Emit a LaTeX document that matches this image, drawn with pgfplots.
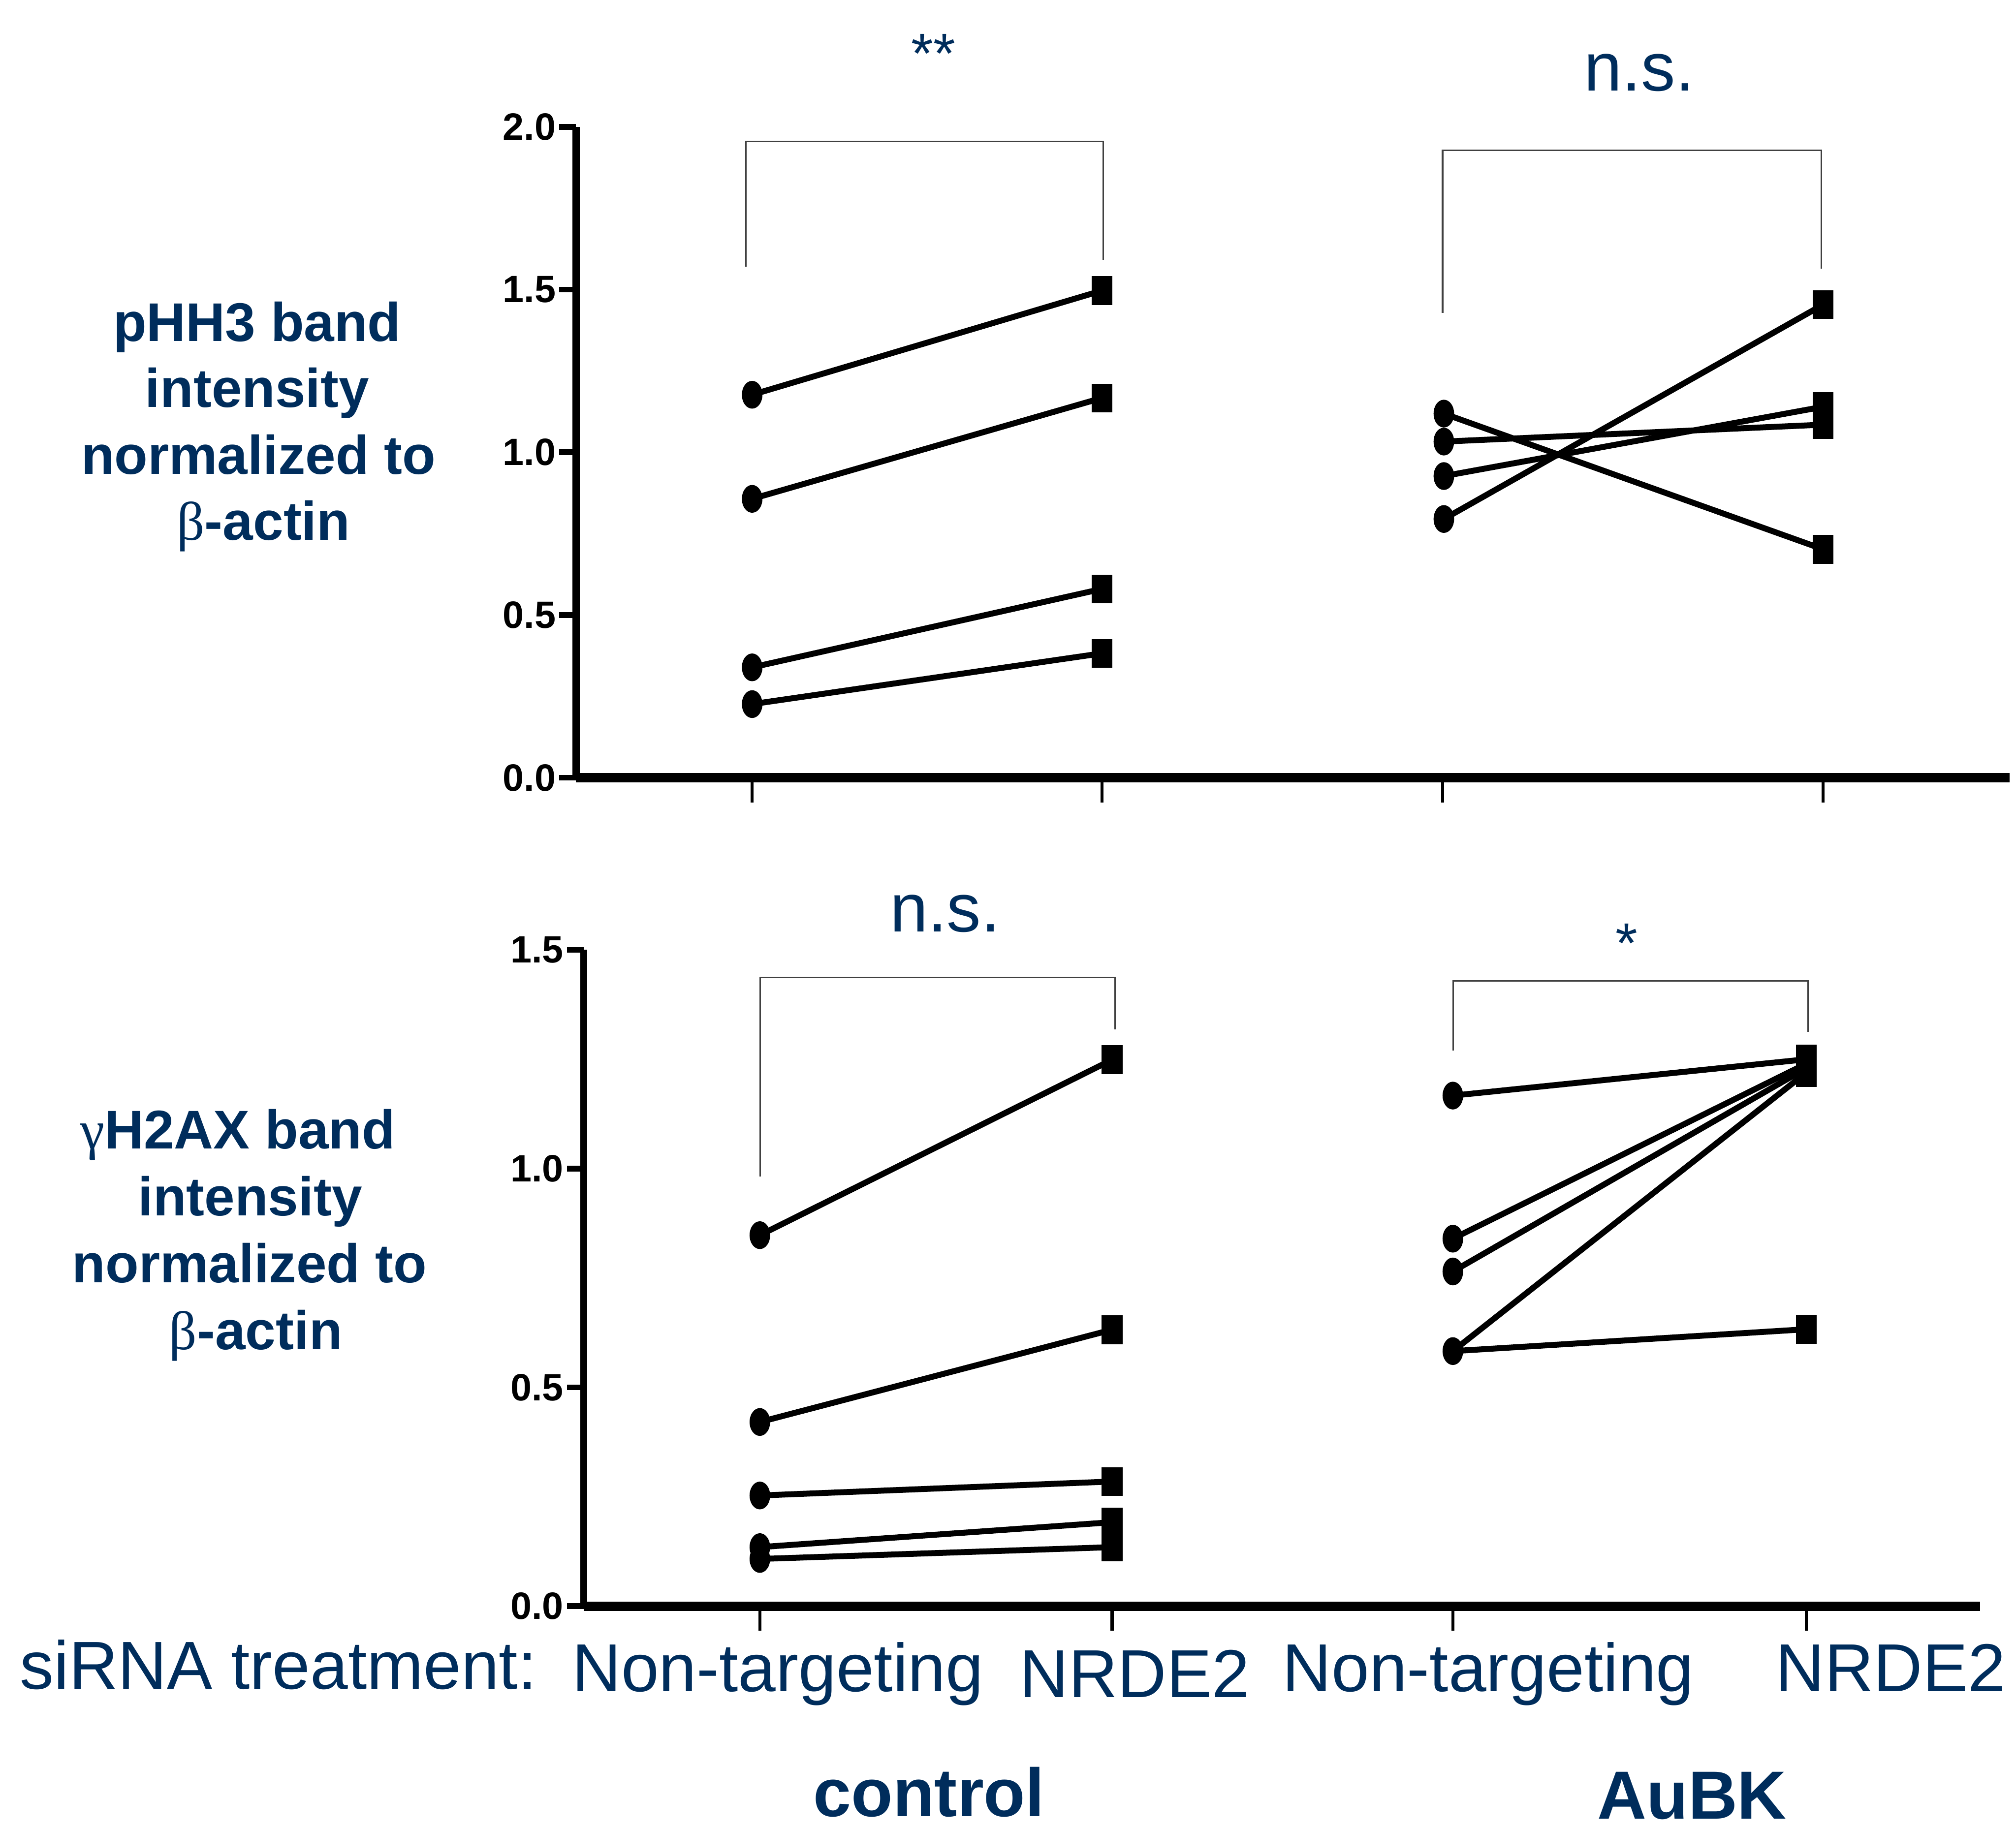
\documentclass[border=0pt]{standalone}
\usepackage{fontspec}
\setmainfont{Liberation Sans}
\newfontfamily\grk{Liberation Serif}
\usepackage{pgfplots}
\pgfplotsset{compat=1.18}
\definecolor{navy}{RGB}{0,45,92}

\begin{document}
\begin{tikzpicture}
\path[use as bounding box] (0,0) rectangle (392pt,-355.5pt);

\pgfplotsset{
 panel/.style={
  scale only axis, clip=false,
  axis lines*=left,
  axis line style={-, black},
  x axis line style={line width=1.8pt},
  y axis line style={line width=1.4pt},
  tick align=outside,
  major tick length=3.25pt,
  xtick style={line width=0.6pt, black, /pgfplots/major tick length=4.8pt},
  ytick style={line width=1.1pt, black},
  xticklabels={},
  yticklabel style={font=\fontsize{7.4}{8}\selectfont\bfseries, inner sep=0.5pt,
    /pgf/number format/fixed, /pgf/number format/fixed zerofill,
    /pgf/number format/precision=1, /pgf/number format/assume math mode=true},
  minor tick num=0,
 },
 pair/.style={line width=1.15pt, black, no markers},
 nt/.style={only marks, mark=*, mark size=2.5pt, black, mark options={xscale=0.72}},
 kd/.style={only marks, mark=square*, mark size=2.6pt, black, mark options={xscale=0.7}},
 brk/.style={line width=0.3pt, black!75, no markers},
}

% ---------- top panel: pHH3 ----------
\begin{axis}[panel, at={(112pt,-151.25pt)}, anchor=south west,
  width=278.75pt, height=126.55pt,
  xmin=448, xmax=1563, ymin=0, ymax=2,
  ytick={0,0.5,1,1.5,2}, xtick={585,857,1122,1418}]
\addplot[brk] coordinates {(580,1.571) (580,1.956) (858,1.956) (858,1.592)};
\addplot[brk] coordinates {(1122,1.429) (1122,1.928) (1416.5,1.928) (1416.5,1.565)};
% control
\addplot[pair] coordinates {(585,1.177) (857,1.497)};
\addplot[pair] coordinates {(585,0.857) (857,1.167)};
\addplot[pair] coordinates {(585,0.339) (857,0.580)};
\addplot[pair] coordinates {(585,0.226) (857,0.382)};
% AuBK
\addplot[pair] coordinates {(1123,1.119) (1418,0.702)};
\addplot[pair] coordinates {(1123,1.033) (1418,1.085)};
\addplot[pair] coordinates {(1123,0.927) (1418,1.140)};
\addplot[pair] coordinates {(1123,0.795) (1418,1.454)};
\addplot[nt] coordinates {(585,1.177) (585,0.857) (585,0.339) (585,0.226)
  (1123,1.119) (1123,1.033) (1123,0.927) (1123,0.795)};
\addplot[kd] coordinates {(857,1.497) (857,1.167) (857,0.580) (857,0.382)
  (1418,0.702) (1418,1.085) (1418,1.140) (1418,1.454)};
\end{axis}

% ---------- bottom panel: gammaH2AX ----------
\begin{axis}[panel, at={(113.5pt,-312.4pt)}, anchor=south west,
  width=271.5pt, height=127.65pt,
  xmin=454, xmax=1540, ymin=0, ymax=1.5,
  ytick={0,0.5,1,1.5}, xtick={591,865,1130,1405}]
\addplot[brk] coordinates {(591.4,0.982) (591.4,1.437) (867.4,1.437) (867.4,1.318)};
\addplot[brk] coordinates {(1130.4,1.270) (1130.4,1.429) (1406.3,1.429) (1406.3,1.313)};
% control
\addplot[pair] coordinates {(591,0.848) (865,1.249)};
\addplot[pair] coordinates {(591,0.421) (865,0.632)};
\addplot[pair] coordinates {(591,0.253) (865,0.285)};
\addplot[pair] coordinates {(591,0.135) (865,0.192)};
\addplot[pair] coordinates {(591,0.108) (865,0.135)};
% AuBK
\addplot[pair] coordinates {(1130,1.167) (1405,1.250)};
\addplot[pair] coordinates {(1130,0.840) (1405,1.240)};
\addplot[pair] coordinates {(1130,0.765) (1405,1.230)};
\addplot[pair] coordinates {(1130,0.583) (1405,1.220)};
\addplot[pair] coordinates {(1130,0.583) (1405,0.633)};
\addplot[nt] coordinates {(591,0.848) (591,0.421) (591,0.253) (591,0.135) (591,0.108)
  (1130,1.167) (1130,0.840) (1130,0.765) (1130,0.583)};
\addplot[kd] coordinates {(865,1.249) (865,0.632) (865,0.285) (865,0.192) (865,0.135)
  (1405,1.250) (1405,1.240) (1405,1.230) (1405,1.220) (1405,0.633)};
\end{axis}

\begin{scope}[x=0.25pt, y=-0.25pt, every node/.style={text=navy, inner sep=0pt, anchor=base}]
% significance
\node[font=\fontsize{11}{13}\selectfont] at (726,57) {**};
\node[font=\fontsize{13.3}{16}\selectfont] at (1275,70.6) {n.s.};
\node[font=\fontsize{13.3}{16}\selectfont] at (735,725) {n.s.};
\node[font=\fontsize{11}{13}\selectfont] at (1265,749) {*};
% y labels top
\node[font=\fontsize{10.6}{13}\selectfont\bfseries] at (200,265.6) {pHH3 band};
\node[font=\fontsize{10.6}{13}\selectfont\bfseries] at (200,316.8) {intensity};
\node[font=\fontsize{10.6}{13}\selectfont\bfseries] at (201,369) {normalized to};
\node[font=\fontsize{10.6}{13}\selectfont\bfseries] at (205,420.2) {{\grk\mdseries β}-actin};
% y labels bottom
\node[font=\fontsize{10.6}{13}\selectfont\bfseries] at (185,893.8) {{\grk\mdseries γ}H2AX band};
\node[font=\fontsize{10.6}{13}\selectfont\bfseries] at (194.5,945.8) {intensity};
\node[font=\fontsize{10.6}{13}\selectfont\bfseries] at (194,997.8) {normalized to};
\node[font=\fontsize{10.6}{13}\selectfont\bfseries] at (199,1049.8) {{\grk\mdseries β}-actin};
% category labels
\node[font=\fontsize{13.2}{16}\selectfont] at (216.5,1314) {siRNA treatment:};
\node[font=\fontsize{13.2}{16}\selectfont] at (605,1315.8) {Non-targeting};
\node[font=\fontsize{13.2}{16}\selectfont] at (882.5,1320.7) {NRDE2};
\node[font=\fontsize{13.2}{16}\selectfont] at (1157.5,1315.8) {Non-targeting};
\node[font=\fontsize{13.2}{16}\selectfont] at (1470.5,1315.8) {NRDE2};
% group labels
\node[font=\fontsize{13.25}{16}\selectfont\bfseries] at (722.5,1413) {control};
\node[font=\fontsize{13.25}{16}\selectfont\bfseries] at (1316,1415) {AuBK};
\end{scope}
\end{tikzpicture}
\end{document}
